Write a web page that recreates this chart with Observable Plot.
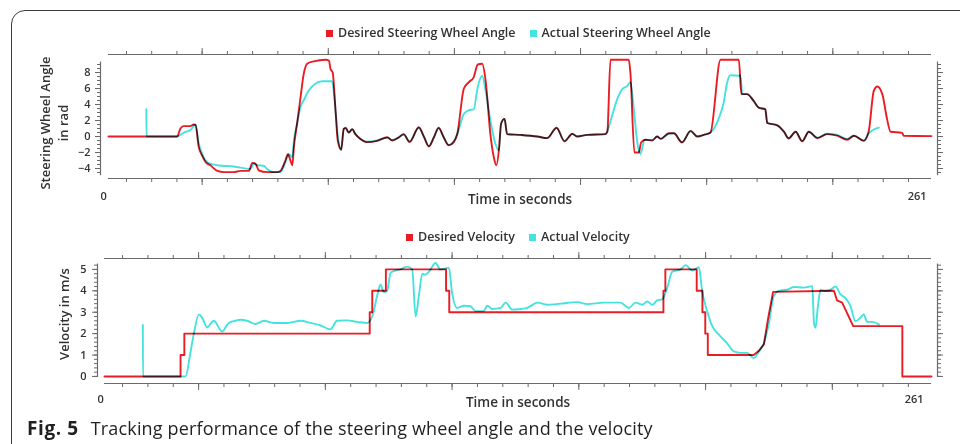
<!DOCTYPE html>
<html>
<head>
<meta charset="utf-8">
<script src="https://cdn.jsdelivr.net/npm/d3@7"></script>
<script src="https://cdn.jsdelivr.net/npm/@observablehq/plot@0.6"></script>
<style>
html, body { margin: 0; padding: 0; width: 960px; height: 444px; overflow: hidden; background: #fff; }
#page { position: relative; width: 960px; height: 444px; font-family: "Open Sans", sans-serif; color: #333; }
.box { position: absolute; left: 11px; top: 10px; width: 1000px; height: 600px; border: 1.3px solid #3c3c3c; border-radius: 14px; box-sizing: border-box; }
.chart { position: absolute; left: 0; }
.legend { position: absolute; display: flex; align-items: center; font-size: 12.5px; font-weight: 600; color: #333; white-space: nowrap; line-height: 16px; z-index: 2; }
.legend .sw { display: inline-block; width: 7px; height: 7px; margin-right: 5px; }
.legend .item { display: flex; align-items: center; margin-right: 14px; }
.ylab { position: absolute; transform: translate(-50%, -50%) rotate(-90deg); font-size: 13px; font-weight: 600; color: #333; text-align: center; line-height: 18px; white-space: nowrap; z-index: 2; }
.caption { position: absolute; left: 27px; top: 415px; font-size: 18px; letter-spacing: 0.15px; color: #231f20; white-space: nowrap; line-height: 26px; z-index: 2; }
.caption b { font-weight: 700; font-size: 19px; letter-spacing: 0.6px; margin-right: 12px; }
</style>
</head>
<body>
<div id="page">
  <div class="box"></div>
  <div id="top" class="chart" style="top:40px"></div>
  <div id="bottom" class="chart" style="top:244px"></div>
</div>
<script>
// ---------- data (time in seconds, values) ----------
const desiredAngle = [[0,0],[21.8,0],[22.8,1.0],[23.8,1.3],[26.0,1.3],[27.0,1.5],[27.6,1.45],[28.6,-1.3],[29.7,-2.4],[30.8,-3.2],[32.3,-3.6],[34.5,-4.3],[36.6,-4.45],[39.7,-4.45],[41.9,-4.3],[44.5,-4.3],[45.6,-3.3],[46.6,-3.4],[47.7,-4.25],[50.3,-4.45],[53.5,-4.45],[54.5,-4.3],[56.1,-3.0],[56.9,-2.2],[57.7,-3.0],[58.3,-3.6],[58.8,-1.3],[59.8,1.6],[60.9,4.9],[61.9,7.8],[63.0,9.1],[65.1,9.4],[68.8,9.6],[69.9,9.5],[70.4,8.45],[71.1,8.0],[72.0,3.25],[72.7,-0.5],[73.8,-1.65],[74.6,0.95],[75.2,1.1],[76.2,0.5],[77.3,0.9],[78.3,0.3],[79.9,-0.3],[82.0,-0.7],[85.2,-0.55],[88.4,-0.1],[90.0,-0.5],[92.1,-0.1],[93.6,0.3],[95.5,-0.7],[98.4,1.15],[100.0,0],[101.6,-1.25],[103.2,-0.1],[104.7,1.1],[106.3,-0.1],[107.9,-1.1],[109.5,-0.7],[110.6,0.3],[112.7,6.0],[114.3,6.8],[115.8,7.4],[117.1,9.0],[118.5,9.1],[119.6,7.0],[121.1,0.3],[122.2,-2.6],[123.0,-3.6],[123.8,-1.75],[124.5,1.6],[125.6,2.2],[126.4,0.3],[130.7,0.2],[136.0,0],[139.1,-0.2],[142.1,1.1],[144.6,-0.6],[147.1,0.35],[148.6,0],[151.8,0.2],[157.6,0.3],[158.2,0.6],[159.2,9.6],[165.0,9.6],[165.5,8.0],[166.8,-2.0],[168.2,-2.0],[168.9,-0.75],[170.3,-0.4],[172.4,-0.5],[174.0,0],[175.1,-0.3],[177.7,0.4],[179.3,0.4],[181.9,-0.75],[184.6,0.7],[186.7,0],[188.8,0.2],[190.9,0.5],[194.1,9.6],[199.9,9.6],[200.7,5.3],[202.5,5.3],[204.6,4.45],[206.2,3.6],[208.3,3.4],[208.9,1.7],[212.1,1.4],[214.2,0.6],[215.7,-0.25],[217.9,0.6],[220.0,-0.6],[222.1,0.6],[224.8,-0.2],[227.9,0.3],[231.1,0.1],[234.3,-0.4],[236.4,0.1],[239.5,-0.55],[241.1,0.7],[242.7,5.7],[243.8,6.25],[245.4,5.3],[246.9,2.2],[248.0,0.6],[251.7,0.45],[252.2,0.1],[261,0.05]];

const actualAngle = [[12.0,3.4],[12.05,0],[21.8,0],[23.9,0.5],[26.0,0.8],[27.6,1.5],[28.6,-0.8],[29.7,-2.2],[30.8,-3.0],[32.3,-3.4],[34.5,-3.6],[39.7,-3.75],[45.0,-4.05],[46.1,-3.4],[47.2,-3.6],[49.2,-3.65],[50.3,-4.05],[52.4,-4.45],[54.5,-4.45],[56.1,-3.2],[57.2,-2.2],[58.3,-2.6],[58.8,-0.5],[59.8,1.6],[60.9,3.7],[61.9,4.5],[63.5,5.75],[65.6,6.6],[67.8,6.9],[70.9,6.9],[71.4,5.75],[72.0,3.25],[72.7,0.15],[73.8,-1.65],[74.6,0.95],[75.2,1.0],[76.2,0.5],[77.3,0.9],[78.3,0.3],[79.9,-0.3],[82.0,-0.65],[85.2,-0.5],[88.4,-0.15],[90.0,-0.45],[92.1,-0.1],[93.6,0.25],[95.5,-0.6],[98.4,1.1],[100.0,0],[101.6,-1.2],[103.2,-0.1],[104.7,1.05],[106.3,-0.1],[107.9,-1.05],[109.5,-0.6],[110.6,0.3],[112.7,2.8],[114.3,3.3],[115.8,3.4],[117.1,6.2],[118.5,7.6],[119.6,5.75],[121.1,2.0],[122.7,-0.9],[123.8,-1.75],[124.5,1.6],[125.6,2.2],[126.4,0.3],[130.7,0.2],[136.0,0],[139.1,-0.2],[142.1,1.05],[144.6,-0.55],[147.1,0.3],[148.6,0],[151.8,0.2],[157.6,0.3],[159.7,2.6],[161.3,4.65],[162.9,5.9],[164.5,6.3],[165.5,6.8],[166.6,3.4],[167.7,-0.75],[168.7,-2.2],[170.0,-0.4],[172.4,-0.45],[174.0,0],[175.1,-0.3],[177.7,0.35],[179.3,0.4],[181.9,-0.7],[184.6,0.65],[186.7,0],[188.8,0.2],[190.9,0.5],[193.5,2.2],[195.1,4.25],[196.2,6.75],[197.2,7.65],[200.4,7.6],[201.0,5.3],[202.5,5.3],[204.6,4.45],[206.2,3.6],[208.3,3.4],[208.9,1.7],[212.1,1.4],[214.2,0.6],[215.7,-0.2],[217.9,0.6],[220.0,-0.55],[222.1,0.6],[224.8,-0.15],[227.9,0.35],[231.1,0.2],[234.3,-0.3],[236.4,0.1],[239.5,-0.5],[241.1,0.4],[244.3,1.1]];

const desiredVelocity = [[0,0],[24.0,0],[24.0,1],[25.2,1],[25.2,2],[83.7,2],[83.7,3],[84.5,3],[84.5,4],[88.8,4],[88.8,5],[107.8,5],[107.8,4],[108.8,4],[108.8,3],[176.4,3],[176.4,4],[177.0,4],[177.0,5],[186.9,5],[186.9,4],[188.7,4],[188.7,3],[189.6,3],[189.6,2],[190.4,2],[190.4,1],[204.9,1],[206.5,1.2],[208.1,1.5],[209.3,2.6],[211.0,3.95],[230.2,4.0],[231.2,3.55],[232.8,3.45],[236.3,2.35],[251.8,2.35],[251.8,0],[261,0]];

const actualVelocity = [[12.1,2.4],[12.15,0],[25.6,0],[27.1,1.1],[28.2,2.0],[29.8,2.9],[30.8,2.75],[32.4,2.3],[34.5,2.6],[37.1,2.1],[39.2,2.5],[41.3,2.6],[42.9,2.65],[45.0,2.6],[47.7,2.45],[50.3,2.6],[53.4,2.5],[57.7,2.5],[61.9,2.6],[65.0,2.5],[68.2,2.38],[71.3,2.2],[73.4,2.6],[76.6,2.62],[79.8,2.55],[82.9,2.5],[84.5,2.8],[86.1,3.8],[87.1,4.3],[88.1,3.95],[89.2,4.0],[90.3,4.85],[91.8,4.95],[93.4,5.0],[95.5,5.13],[97.1,5.0],[98.2,2.8],[99.2,3.75],[100.3,4.8],[101.3,4.75],[102.4,4.9],[104.5,5.3],[106.0,5.0],[108.7,5.07],[109.7,3.9],[111.3,3.2],[113.4,3.3],[115.5,3.28],[117.1,3.05],[119.7,3.05],[120.8,3.3],[122.4,3.15],[125.0,3.2],[126.6,3.45],[128.7,3.12],[131.3,3.15],[133.4,3.2],[136.6,3.45],[139.7,3.35],[143.9,3.4],[149.2,3.47],[152.3,3.38],[157.6,3.45],[162.8,3.45],[165.5,3.2],[167.6,3.45],[169.7,3.35],[171.3,3.5],[172.9,3.35],[174.4,3.55],[176.0,3.6],[177.6,4.15],[179.2,4.9],[181.8,5.0],[183.4,5.2],[185.5,4.95],[187.6,5.1],[188.6,4.0],[190.2,3.05],[191.8,2.35],[193.9,1.95],[196.5,1.55],[198.6,1.17],[200.7,1.1],[202.8,1.1],[204.9,0.86],[206.5,1.15],[208.1,1.55],[209.7,2.5],[211.2,3.75],[212.8,4.0],[215.5,4.05],[217.5,4.18],[220.7,4.15],[223.4,4.22],[223.9,2.5],[224.4,2.27],[225.1,3.2],[226.0,4.05],[227.5,4.0],[229.1,4.05],[230.7,4.2],[232.3,3.83],[233.9,3.65],[235.4,3.3],[237.0,2.58],[238.6,2.75],[239.6,2.9],[240.7,2.55],[242.3,2.55],[244.4,2.43]];

// ---------- ticks & labels ----------
const timeDomain = [0, 261];
const timeMinorTicks = [5.7,13.7,21.7,29.7,37.7,45.7,53.7,61.7,69.7,77.7,85.7,93.7,101.7,109.7,117.7,125.7,133.7,141.7,149.7,157.7,165.7,173.7,181.7,189.7,197.7,205.7,213.7,221.7,229.7,237.7,245.7,253.7];
const timeMajorTicks = [29.7,69.7,109.7,149.7,189.7,229.7];
const timeEndLabels = ["0", "261"];
const timeLabel = "Time in seconds";

const angleDomain = [-5.25, 10.25];
const angleAxisExtent = [-4.9, 9.3];
const angleMajorTicks = [-4,-2,0,2,4,6,8];
const angleMinorTicks = [-4.5,-4,-3.5,-3,-2.5,-2,-1.5,-1,-0.5,0,0.5,1,1.5,2,2.5,3,3.5,4,4.5,5,5.5,6,6.5,7,7.5,8,8.5,9];

const velDomain = [-0.33, 5.51];
const velAxisExtent = [-0.05, 5.25];
const velMajorTicks = [0,1,2,3,4,5];
const velMinorTicks = [0,0.2,0.4,0.6,0.8,1,1.2,1.4,1.6,1.8,2,2.2,2.4,2.6,2.8,3,3.2,3.4,3.6,3.8,4,4.2,4.4,4.6,4.8,5,5.2];

const seriesNames = {
  angle: ["Desired Steering Wheel Angle", "Actual Steering Wheel Angle"],
  vel: ["Desired Velocity", "Actual Velocity"]
};
const seriesColors = ["#ea1c24", "#46e2df"];
const yLabels = ["Steering Wheel Angle\nin rad", "Velocity in m/s"];
const captionBold = "Fig. 5";
const captionText = "Tracking performance of the steering wheel angle and the velocity";

// ---------- chart builder ----------
function makeChart({desired, actual, desiredCurve, yDomain, axisExtent, majorTicks, minorTicks, marginLeft, marginBottom, height, leftDx, labelPad, endDx0, endDx1, endDy, titleDy}) {
  const axisStroke = "#6a6a6a";
  const ext = [{t: timeDomain[0], y1: axisExtent[0], y2: axisExtent[1]}];
  const extR = [{t: timeDomain[1], y1: axisExtent[0], y2: axisExtent[1]}];
  return Plot.plot({
    width: 960,
    height,
    marginLeft,
    marginRight: 29,
    marginTop: 14,
    marginBottom,
    style: {fontFamily: "Open Sans, sans-serif", fontSize: "11px", color: "#333", background: "transparent", overflow: "visible"},
    x: {domain: timeDomain, axis: null},
    y: {domain: yDomain, axis: null},
    marks: [
      Plot.ruleY([yDomain[1]], {stroke: axisStroke, strokeWidth: 1.2}),
      Plot.ruleY([yDomain[0]], {stroke: axisStroke, strokeWidth: 1.2}),
      Plot.axisX(timeMinorTicks, {anchor: "top", tickSize: 4, stroke: axisStroke, fill: "none", label: null}),
      Plot.axisX(timeMajorTicks, {anchor: "top", tickSize: 7, stroke: axisStroke, fill: "none", label: null}),
      Plot.axisX(timeMinorTicks, {anchor: "bottom", tickSize: 4, stroke: axisStroke, fill: "none", label: null}),
      Plot.axisX(timeMajorTicks, {anchor: "bottom", tickSize: 7, stroke: axisStroke, fill: "none", label: null}),
      Plot.ruleX(ext, {x: "t", y1: "y1", y2: "y2", dx: leftDx, stroke: axisStroke, strokeWidth: 1.2}),
      Plot.ruleX(extR, {x: "t", y1: "y1", y2: "y2", dx: 6, stroke: axisStroke, strokeWidth: 1.2}),
      Plot.axisY(minorTicks, {anchor: "left", tickSize: 3, dx: leftDx, stroke: axisStroke, fill: "none", label: null}),
      Plot.axisY(majorTicks, {anchor: "left", tickSize: 5, tickPadding: labelPad, dx: leftDx, stroke: axisStroke, fill: "#333", fontWeight: 600, fontSize: 11, label: null}),
      Plot.axisY(minorTicks, {anchor: "right", tickSize: 3, dx: 6, stroke: axisStroke, fill: "none", label: null}),
      Plot.axisY(majorTicks, {anchor: "right", tickSize: 5, dx: 6, stroke: axisStroke, fill: "none", label: null}),
      Plot.line(desired, {x: d => d[0], y: d => d[1], stroke: seriesColors[0], strokeWidth: 1.9, curve: desiredCurve}),
      Plot.line(actual, {x: d => d[0], y: d => d[1], stroke: seriesColors[1], strokeWidth: 1.9, curve: "monotone-x", mixBlendMode: "multiply"}),
      Plot.text([timeDomain[0]], {x: d => d, text: () => timeEndLabels[0], frameAnchor: "bottom", dy: endDy, dx: endDx0, textAnchor: "start", fill: "#333", fontWeight: 600, fontSize: 11}),
      Plot.text([timeDomain[1]], {x: d => d, text: () => timeEndLabels[1], frameAnchor: "bottom", dy: endDy, dx: endDx1, textAnchor: "end", fill: "#333", fontWeight: 600, fontSize: 11}),
      Plot.text([timeLabel], {frameAnchor: "bottom", dy: titleDy, text: d => d, fill: "#333", fontWeight: 600, fontSize: 13.5})
    ]
  });
}

document.getElementById("top").appendChild(makeChart({
  desired: desiredAngle, actual: actualAngle, desiredCurve: "monotone-x", yDomain: angleDomain, axisExtent: angleAxisExtent,
  majorTicks: angleMajorTicks, minorTicks: angleMinorTicks,
  marginLeft: 108, marginBottom: 34, height: 172, leftDx: -8, labelPad: 5,
  endDx0: -8, endDx1: -5, endDy: 21, titleDy: 25
}));

document.getElementById("bottom").appendChild(makeChart({
  desired: desiredVelocity, actual: actualVelocity, desiredCurve: "linear", yDomain: velDomain, axisExtent: velAxisExtent,
  majorTicks: velMajorTicks, minorTicks: velMinorTicks,
  marginLeft: 104, marginBottom: 33, height: 172, leftDx: -7, labelPad: 6,
  endDx0: -7, endDx1: -8, endDy: 19, titleDy: 23
}));

// ---------- HTML legends, y labels, caption ----------
const page = document.getElementById("page");
function addLegend(names, left, centerY) {
  const lg = document.createElement("div");
  lg.className = "legend";
  lg.style.left = left + "px";
  lg.style.top = (centerY - 8) + "px";
  names.forEach((n, i) => {
    const it = document.createElement("span");
    it.className = "item";
    const sw = document.createElement("span");
    sw.className = "sw";
    sw.style.background = seriesColors[i];
    it.appendChild(sw);
    it.appendChild(document.createTextNode(n));
    lg.appendChild(it);
  });
  page.appendChild(lg);
}
addLegend(seriesNames.angle, 326, 33);
addLegend(seriesNames.vel, 406, 237);

function addYLabel(text, cx, cy) {
  const d = document.createElement("div");
  d.className = "ylab";
  d.style.left = cx + "px";
  d.style.top = cy + "px";
  d.innerHTML = text.split("\n").join("<br>");
  page.appendChild(d);
}
addYLabel(yLabels[0], 54, 123);
addYLabel(yLabels[1], 64, 314);

const cap = document.createElement("div");
cap.className = "caption";
const b = document.createElement("b");
b.textContent = captionBold;
cap.appendChild(b);
cap.appendChild(document.createTextNode(captionText));
page.appendChild(cap);
</script>
</body>
</html>
